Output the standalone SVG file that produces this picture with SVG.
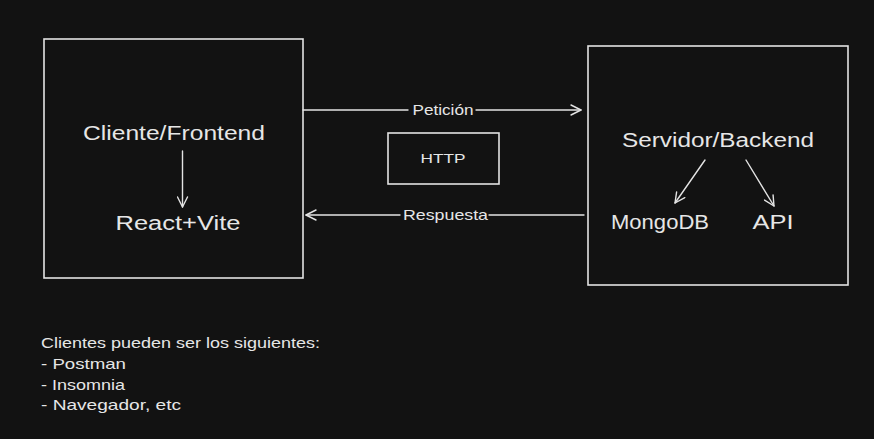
<svg xmlns="http://www.w3.org/2000/svg" width="874" height="439" viewBox="0 0 874 439">
<defs>
<style>
.box{fill:none;stroke:#e3e3e3;stroke-width:1.6}
.ln{fill:none;stroke:#e3e3e3;stroke-width:1.4;stroke-linecap:round}
.t{fill:#e6e6e6;font-family:"Liberation Sans",Arial,sans-serif}
.big{font-size:20px;text-anchor:middle}
.mid{font-size:15px;text-anchor:middle}
.sm{font-size:13px;text-anchor:middle}
.note{font-size:15px}
</style>
<marker id="ah" viewBox="0 0 12 12" refX="11" refY="6" markerWidth="12" markerHeight="12" markerUnits="userSpaceOnUse" orient="auto">
<path d="M1,1 L11,6 L1,11" fill="none" stroke="#e3e3e3" stroke-width="1.4" stroke-linecap="round" stroke-linejoin="round"/>
</marker>
</defs>
<rect width="874" height="439" fill="#121212"/>
<g id="cliente">
<rect class="box" x="44" y="39" width="259" height="239"/>
<text class="t big" x="174" y="140" textLength="182" lengthAdjust="spacingAndGlyphs">Cliente/Frontend</text>
<text class="t big" x="178" y="230" textLength="125" lengthAdjust="spacingAndGlyphs">React+Vite</text>
</g>
<g id="servidor">
<rect class="box" x="588" y="46" width="260" height="239"/>
<text class="t big" x="718" y="147" textLength="192" lengthAdjust="spacingAndGlyphs">Servidor/Backend</text>
<text class="t big" x="660" y="229" textLength="98" lengthAdjust="spacingAndGlyphs">MongoDB</text>
<text class="t big" x="773" y="229" textLength="41" lengthAdjust="spacingAndGlyphs">API</text>
</g>
<g id="http">
<rect class="box" x="388" y="133" width="111" height="51"/>
<text class="t sm" x="443" y="163" textLength="45" lengthAdjust="spacingAndGlyphs">HTTP</text>
</g>
<g id="nota">
<text class="t note" x="41" y="348" textLength="279" lengthAdjust="spacingAndGlyphs">Clientes pueden ser los siguientes:</text>
<text class="t note" x="41" y="369" textLength="85" lengthAdjust="spacingAndGlyphs">- Postman</text>
<text class="t note" x="41" y="390" textLength="84" lengthAdjust="spacingAndGlyphs">- Insomnia</text>
<text class="t note" x="41" y="410" textLength="140" lengthAdjust="spacingAndGlyphs">- Navegador, etc</text>
</g>
<g id="conectores">
<path class="ln" d="M303,110 L408,110"/>
<path class="ln" d="M476,110 L581,110" marker-end="url(#ah)"/>
<text class="t mid" x="443" y="115" textLength="61" lengthAdjust="spacingAndGlyphs">Petición</text>
<path class="ln" d="M584,215 L489,215"/>
<path class="ln" d="M400,215 L306,215" marker-end="url(#ah)"/>
<text class="t mid" x="445.5" y="220" textLength="85" lengthAdjust="spacingAndGlyphs">Respuesta</text>
<path class="ln" d="M182.5,151 L182.5,207" marker-end="url(#ah)"/>
<path class="ln" d="M705,160 L675,203" marker-end="url(#ah)"/>
<path class="ln" d="M746,160 L774,206" marker-end="url(#ah)"/>
</g>
</svg>
